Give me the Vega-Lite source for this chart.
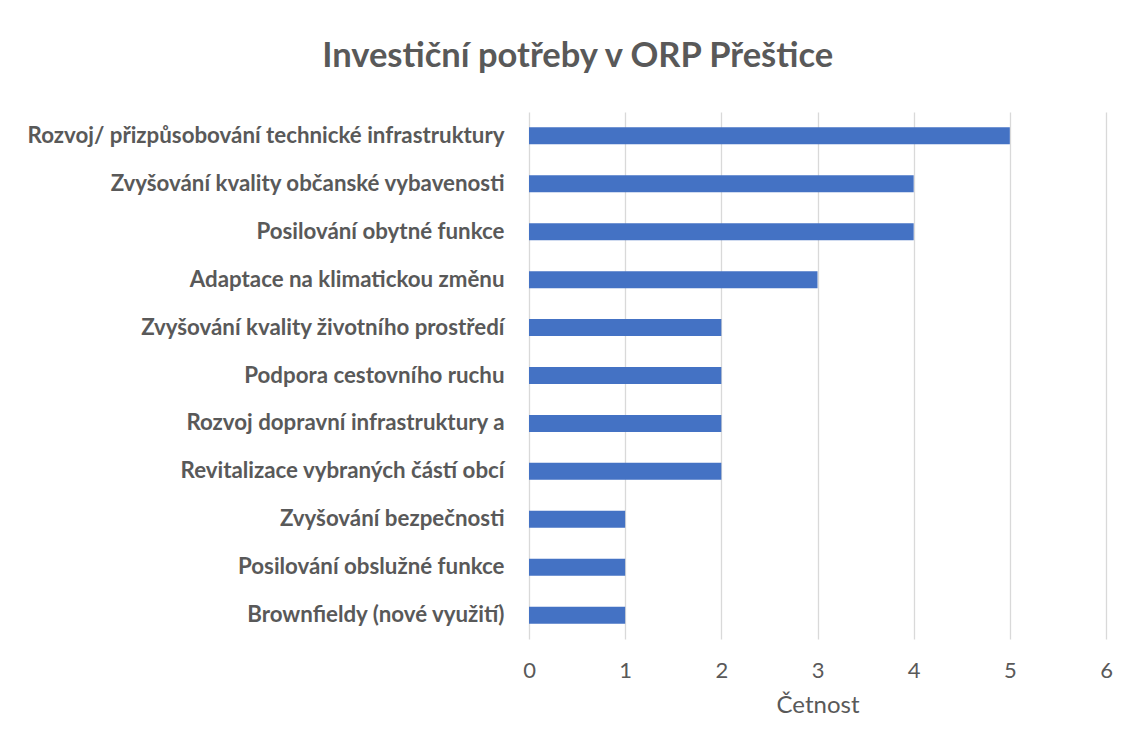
{
  "$schema": "https://vega.github.io/schema/vega-lite/v6.json",
  "width": 577,
  "height": 527,
  "padding": {"left": 27, "top": 38, "right": 20, "bottom": 20},
  "background": "white",
  "title": {
    "text": "Investiční potřeby v ORP Přeštice",
    "font": "Lato",
    "fontSize": 34.5,
    "fontWeight": "bold",
    "color": "#595959",
    "anchor": "middle",
    "frame": "bounds",
    "dx": 8,
    "offset": 38
  },
  "data": {
    "values": [
      {"kategorie": "Rozvoj/ přizpůsobování technické infrastruktury", "cetnost": 5},
      {"kategorie": "Zvyšování kvality občanské vybavenosti", "cetnost": 4},
      {"kategorie": "Posilování obytné funkce", "cetnost": 4},
      {"kategorie": "Adaptace na klimatickou změnu", "cetnost": 3},
      {"kategorie": "Zvyšování kvality životního prostředí", "cetnost": 2},
      {"kategorie": "Podpora cestovního ruchu", "cetnost": 2},
      {"kategorie": "Rozvoj dopravní infrastruktury a", "cetnost": 2},
      {"kategorie": "Revitalizace vybraných částí obcí", "cetnost": 2},
      {"kategorie": "Zvyšování bezpečnosti", "cetnost": 1},
      {"kategorie": "Posilování obslužné funkce", "cetnost": 1},
      {"kategorie": "Brownfieldy (nové využití)", "cetnost": 1}
    ]
  },
  "mark": {"type": "bar", "color": "#4472C4"},
  "encoding": {
    "y": {
      "field": "kategorie",
      "type": "nominal",
      "sort": null,
      "scale": {"paddingInner": 0.645, "paddingOuter": 0.32},
      "axis": {
        "title": null,
        "domain": false,
        "ticks": false,
        "labelFont": "Lato",
        "labelFontSize": 22.3,
        "labelFontWeight": "bold",
        "labelColor": "#595959",
        "labelPadding": 25,
        "labelLimit": 700
      }
    },
    "x": {
      "field": "cetnost",
      "type": "quantitative",
      "scale": {"domain": [0, 6]},
      "axis": {
        "title": "Četnost",
        "titleFont": "Lato",
        "titleFontSize": 24,
        "titleFontWeight": "normal",
        "titleColor": "#595959",
        "titlePadding": 12,
        "values": [0, 1, 2, 3, 4, 5, 6],
        "format": "d",
        "domain": false,
        "ticks": false,
        "grid": true,
        "gridColor": "#d9d9d9",
        "gridWidth": 1.3,
        "labelFont": "Lato",
        "labelFontSize": 22,
        "labelColor": "#595959",
        "labelPadding": 21,
        "labelFlush": false
      }
    }
  },
  "config": {"view": {"stroke": null}}
}
